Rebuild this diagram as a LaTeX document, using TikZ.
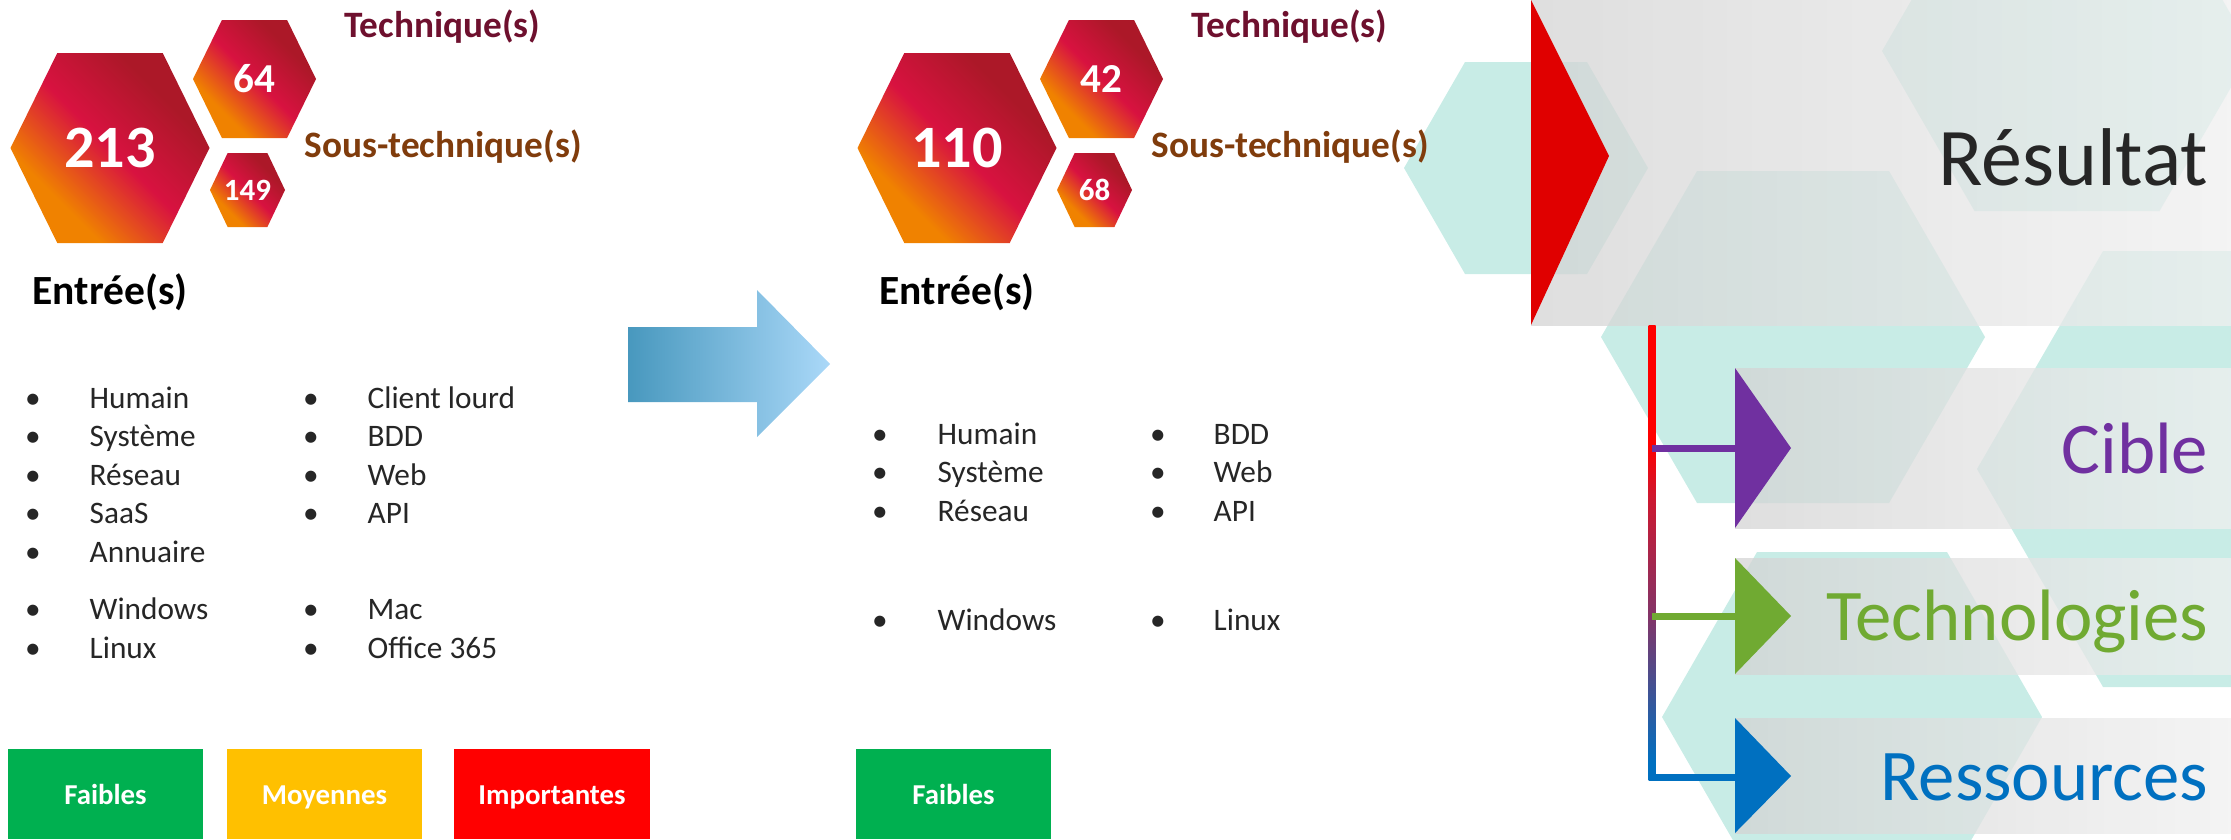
\documentclass[tikz,border=0pt]{standalone}
\usepackage{fontspec}
\setmainfont{Carlito}
\usepackage{tikz}

\definecolor{hexorange}{RGB}{240,130,0}
\definecolor{hexcrimson}{RGB}{216,18,64}
\definecolor{hexdark}{RGB}{172,24,40}
\definecolor{techcol}{RGB}{110,16,46}
\definecolor{soustechcol}{RGB}{128,60,12}
\definecolor{listgrey}{RGB}{38,38,38}
\definecolor{lvlgreen}{RGB}{0,176,80}
\definecolor{lvlyellow}{RGB}{255,192,0}
\definecolor{lvlred}{RGB}{255,0,0}
\definecolor{arrowdark}{RGB}{72,152,190}
\definecolor{arrowlight}{RGB}{170,216,248}
\definecolor{tealbg}{RGB}{200,236,230}
\definecolor{resred}{RGB}{224,0,0}
\definecolor{ciblecol}{RGB}{112,48,160}
\definecolor{technocol}{RGB}{112,170,50}
\definecolor{ressourcecol}{RGB}{0,112,192}
\definecolor{trunkmid}{RGB}{130,52,104}
\definecolor{trunkhot}{RGB}{205,24,48}

% orange -> crimson -> dark red, turned to run bottom-left to top-right
\pgfdeclarehorizontalshading{hexfire}{100bp}{color(0bp)=(hexorange); color(31bp)=(hexorange);
  color(50bp)=(hexcrimson); color(69bp)=(hexdark); color(100bp)=(hexdark)}
% trunk: blue at the foot, red over the top quarter
\pgfdeclareverticalshading{trunkfade}{100bp}{color(0bp)=(ressourcecol); color(27bp)=(ressourcecol);
  color(43bp)=(trunkmid); color(56bp)=(trunkhot); color(62bp)=(red); color(100bp)=(red)}

% #1 name, #2 centre, #3 half width, #4 half height, #5 font size, #6 number
\newcommand{\hexcell}[6]{%
  \shade[shading=hexfire, shading angle=45] (#2) ++(-#3,0)
    -- ++({0.47*#3},-#4) -- ++({1.06*#3},0) -- ++({0.47*#3},#4)
    -- ++({-0.47*#3},#4) -- ++({-1.06*#3},0) -- cycle;
  \node[hexnum, font=\bfseries\fontsize{#5}{#5}\selectfont] (#1) at (#2) {#6};
}
% flat hexagon of the backdrop: centre, half width, half height
\newcommand{\bghex}[3]{%
  \fill[tealbg] (#1) ++(-#2,0) -- ++(#2/2,-#3) -- ++(#2,0) -- ++(#2/2,#3)
    -- ++(-#2/2,#3) -- ++(-#2,0) -- cycle;
}

\begin{document}
\begin{tikzpicture}[x=0.01cm,y=-0.01cm]
  \tikzstyle{hexnum}=[text=white, inner sep=0]
  \tikzstyle{techlabel}=[anchor=base west, inner sep=0, font=\bfseries\fontsize{10.6}{12}\selectfont]
  \tikzstyle{entree}=[anchor=base west, inner sep=0, font=\bfseries\fontsize{11.8}{13}\selectfont]
  \tikzstyle{item}=[anchor=base west, inner sep=0, text=listgrey, font=\fontsize{8.9}{10}\selectfont]
  \tikzstyle{puce}=[anchor=base, inner sep=0, text=listgrey, font=\fontsize{8.9}{10}\selectfont]
  \tikzstyle{sevbox}=[minimum width=1.95cm, minimum height=0.9cm, inner sep=0, text=white,
    font=\bfseries\fontsize{8.2}{10}\selectfont, text height=1.6ex, text depth=0.3ex]
  \tikzstyle{banner}=[left color=gray!34, right color=gray!12, fill opacity=0.75]
  \tikzstyle{branch}=[line width=0.07cm]
  \tikzstyle{reslabel}=[anchor=base east, inner sep=0, font=\fontsize{20.7}{24}\selectfont]
  \useasboundingbox (0,0) rectangle (2231,839);

  % ---- result side: backdrop ----
  \bghex{1526,168}{122}{106}
  \bghex{1793,337}{192}{166}
  \bghex{1852,717}{190}{165}
  \bghex{2229,469}{252}{218}
  \bghex{2067,51}{185}{160}

  \shade[banner] (1531,0) rectangle (2231,325);
  \shade[banner] (1735,368) rectangle (2231,528);
  \shade[banner] (1735,558) rectangle (2231,674);
  \shade[banner] (1735,718) rectangle (2231,833);

  \fill[resred] (1531,0) -- (1609,156) -- (1531,325) -- cycle;
  \fill[ciblecol] (1735,368) -- (1791,448) -- (1735,528) -- cycle;
  \fill[technocol] (1735,558) -- (1791,616) -- (1735,674) -- cycle;
  \fill[ressourcecol] (1735,718) -- (1791,776) -- (1735,833) -- cycle;

  \node[anchor=base east, inner sep=0, text=listgrey, font=\fontsize{23.3}{28}\selectfont]
    (resultat) at (2209,185) {Résultat};
  \node[reslabel, text=ciblecol] (cible) at (2209,473) {Cible};
  \node[reslabel, text=technocol] (technos) at (2209,640) {Technologies};
  \node[reslabel, text=ressourcecol] (ressources) at (2209,800) {Ressources};

  % trunk and branches
  \coordinate (trunk-top) at (1652,325);
  \coordinate (trunk-end) at (1648.5,777);
  \coordinate (cible-in) at (1735,448);
  \coordinate (technos-in) at (1735,616);
  \coordinate (ressources-in) at (1735,777);
  \shade[shading=trunkfade] (1648.5,325) rectangle (1655.5,780.5);
  \draw[branch, ciblecol] (trunk-top |- cible-in) -- (cible-in);
  \draw[branch, technocol] (trunk-top |- technos-in) -- (technos-in);
  \draw[branch, ressourcecol] (trunk-end) -- (ressources-in);

  % ---- first panel ----
  \hexcell{big-a}{110,148}{99.5}{95}{17.1}{213}
  \hexcell{tech-a}{254.5,79}{61.5}{59}{11.7}{64}
  \hexcell{stech-a}{247.5,190}{37.5}{37}{8.8}{149}
  \node[techlabel, text=techcol] (techlbl-a) at (344,37) {Technique(s)};
  \node[techlabel, text=soustechcol] (stechlbl-a) at (304,157) {Sous-technique(s)};
  \node[entree] (entree-a) at (32,304) {Entrée(s)};

  \foreach \key/\lbl/\y in {hum/Humain/408, sys/Système/446.5, res/Réseau/485, saas/SaaS/523.5,
      ann/Annuaire/562, win/Windows/619, lin/Linux/658}{
    \node[puce] (pa-\key) at (33,\y) {\textbullet};
    \node[item] (ia-\key) at (89,\y) {\lbl};
  }
  \foreach \key/\lbl/\y in {cli/Client lourd/408, bdd/BDD/446.5, web/Web/485, api/API/523.5,
      mac/Mac/619, off/Office 365/658}{
    \node[puce] (pa-\key) at (311,\y) {\textbullet};
    \node[item] (ia-\key) at (367,\y) {\lbl};
  }

  \node[sevbox, fill=lvlgreen] (faibles-a) at (105.5,794) {Faibles};
  \node[sevbox, fill=lvlyellow] (moyennes-a) at (324.5,794) {Moyennes};
  \node[sevbox, fill=lvlred] (importantes-a) at (552,794) {Importantes};

  % arrow between the two panels
  \shade[left color=arrowdark, right color=arrowlight] (628,327) -- (757,327) -- (757,290)
    -- (830,364) -- (757,437) -- (757,402) -- (628,402) -- cycle;

  % ---- second panel ----
  \hexcell{big-b}{957,148}{99.5}{95}{17.1}{110}
  \hexcell{tech-b}{1101.5,79}{61.5}{59}{11.7}{42}
  \hexcell{stech-b}{1094.5,190}{37.5}{37}{8.8}{68}
  \node[techlabel, text=techcol] (techlbl-b) at (1191,37) {Technique(s)};
  \node[techlabel, text=soustechcol] (stechlbl-b) at (1151,157) {Sous-technique(s)};
  \node[entree] (entree-b) at (879,304) {Entrée(s)};

  \foreach \key/\lbl/\y in {hum/Humain/444, sys/Système/482.5, res/Réseau/521, win/Windows/630}{
    \node[puce] (pb-\key) at (880,\y) {\textbullet};
    \node[item] (ib-\key) at (937,\y) {\lbl};
  }
  \foreach \key/\lbl/\y in {bdd/BDD/444, web/Web/482.5, api/API/521, lin/Linux/630}{
    \node[puce] (pb-\key) at (1158,\y) {\textbullet};
    \node[item] (ib-\key) at (1213,\y) {\lbl};
  }

  \node[sevbox, fill=lvlgreen] (faibles-b) at (953.5,794) {Faibles};
\end{tikzpicture}
\end{document}
